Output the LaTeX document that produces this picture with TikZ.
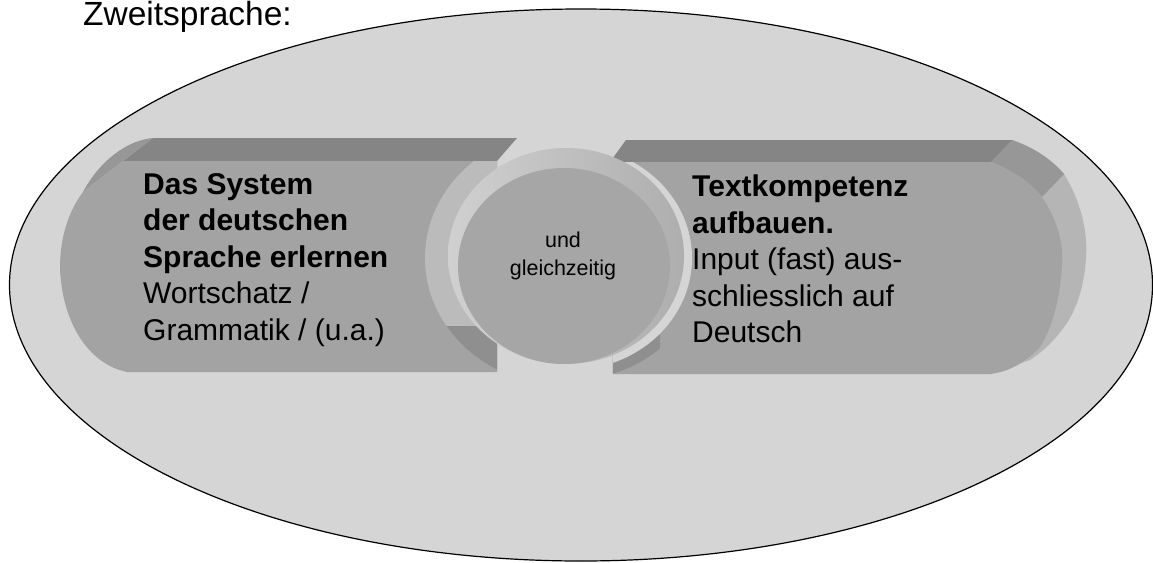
\documentclass[tikz,border=0pt]{standalone}
\usepackage{fontspec}
\setmainfont{Liberation Sans}
\definecolor{bgcol}{HTML}{D5D5D5}
\definecolor{facecol}{HTML}{A3A3A3}
\definecolor{bandcol}{HTML}{858585}
\definecolor{bevelcol}{HTML}{979797}
\definecolor{ringcol}{HTML}{BBBBBB}
\definecolor{ringdark}{HTML}{8F8F8F}
\definecolor{sidecol}{HTML}{B5B5B5}
\definecolor{circface}{HTML}{A6A6A6}
\definecolor{rimlight}{HTML}{D0D0D0}
\definecolor{rimdark}{HTML}{AEAEAE}
\begin{document}
\begin{tikzpicture}[x=1pt,y=-1pt,
  boxtext/.style={inner sep=0pt,align=left,font=\fontsize{30}{36.5}\selectfont},
  circtext/.style={inner sep=0pt,align=center,font=\fontsize{21.5}{28}\selectfont}]
\useasboundingbox (0,0) rectangle (1153,562);
% background ellipse
\draw[fill=bgcol,line width=1.2pt] (581,285) ellipse [x radius=571.5, y radius=276];
% ---------- left pill ----------
\fill[bandcol] (153,138) -- (517,138) -- (497,161) -- (123,161) -- cycle;
\fill[bevelcol] (153,138) .. controls (128,140) and (100,160) .. (83,192) -- (123,161) -- cycle;
\begin{scope}
  \clip (123,161) -- (497,161) -- (497,372) -- (127,372)
     .. controls (88,364) and (62,322) .. (60,268)
     .. controls (60,238) and (68,212) .. (83,192) -- cycle;
  \fill[facecol] (0,0) rectangle (1153,562);
  \fill[ringcol] (566,258) ellipse [x radius=141, y radius=128];
  \clip (0,326) rectangle (1153,562);
  \fill[ringdark] (566,258) ellipse [x radius=141, y radius=128];
\end{scope}
% ---------- right pill ----------
\fill[sidecol] (991,162) -- (1012,140) .. controls (1035,148) and (1052,160) .. (1064,174)
   .. controls (1080,200) and (1088,230) .. (1086,258)
   .. controls (1084,290) and (1075,310) .. (1067,323)
   .. controls (1055,340) and (1045,350) .. (1030,360) -- (990,374) -- cycle;
\fill[bevelcol] (1012,140) .. controls (1035,148) and (1052,160) .. (1064,174)
   -- (1042,197) .. controls (1030,182) and (1012,170) .. (991,162) -- cycle;
\fill[bandcol] (626,140) -- (1012,140) -- (991,162) -- (610,162) -- cycle;
\begin{scope}
  \clip (610,162) -- (991,162) .. controls (1012,170) and (1030,182) .. (1042,197)
     .. controls (1056,218) and (1064,242) .. (1062,265)
     .. controls (1060,300) and (1052,328) .. (1040,347)
     .. controls (1025,363) and (1008,372) .. (990,374) -- (613,374) -- cycle;
  \fill[facecol] (0,0) rectangle (1153,562);
  \begin{scope}
    \clip (0,335) rectangle (660,562);
    \fill[ringdark] (570,258) ellipse [x radius=134, y radius=122];
  \end{scope}
  \fill[bgcol] (570,258) ellipse [x radius=122, y radius=112];
\end{scope}
% ---------- centre disc ----------
\shade[left color=rimlight,right color=rimdark] (566,256) ellipse [x radius=118, y radius=108];
\fill[circface] (564,266) ellipse [x radius=106, y radius=98];
% ---------- texts ----------
\node[anchor=base west,inner sep=0pt,font=\fontsize{33.5}{40}\selectfont] (title) at (83,25) {Zweitsprache:};
\node[boxtext,anchor=north west] (system) at (143,173)
  {\textbf{Das System}\\\textbf{der deutschen}\\\textbf{Sprache erlernen}\\Wortschatz /\\Grammatik / (u.a.)};
\node[boxtext,anchor=north west] (text) at (692,175)
  {\textbf{Textkompetenz}\\\textbf{aufbauen.}\\Input (fast) aus-\\schliesslich auf\\Deutsch};
\node[circtext,anchor=north] (und) at (563,232) {und\\gleichzeitig};
\end{tikzpicture}
\end{document}
